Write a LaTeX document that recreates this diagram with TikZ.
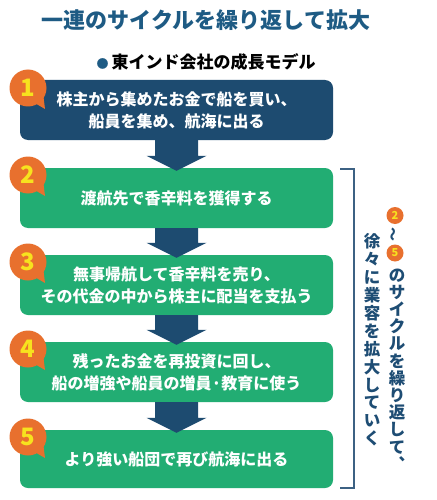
\documentclass[tikz,border=0pt]{standalone}
\usepackage{fontspec}
\setmainfont{Noto Sans CJK JP}
\usetikzlibrary{calc}
\definecolor{navy}{HTML}{1D4B70}
\definecolor{grn}{HTML}{22AD73}
\definecolor{orng}{HTML}{E8702E}
\definecolor{ylw}{HTML}{F7E21E}
\definecolor{ttl}{HTML}{1E5B84}
\definecolor{brk}{HTML}{3C6183}
\definecolor{vtxt}{HTML}{1E4D74}
\tikzset{
  stepbox/.style={rounded corners=8pt, minimum width=313pt, minimum height=60pt, inner sep=0pt,
    align=center, text=white, font=\fontsize{16}{22}\selectfont\bfseries},
  badgec/.style={circle, fill=orng, minimum size=37pt, inner sep=0pt, text=ylw,
    font=\fontsize{24}{24}\selectfont\bfseries},
  sbadge/.style={circle, fill=orng, minimum size=17pt, inner sep=0pt, text=ylw,
    font=\fontsize{11}{11}\selectfont\bfseries},
  vcolA/.style={align=center, inner sep=0pt, text=vtxt, font=\fontsize{16.5}{17.9}\selectfont\bfseries},
  vcolB/.style={align=center, inner sep=0pt, text=vtxt, font=\fontsize{16.5}{17.2}\selectfont\bfseries},
}
\newcommand\blockarr[2]{%
  \fill[navy] let \p1=(#1.south), \p2=(#2.north) in
    (\x1-21.5pt,\y1) -- (\x1+21.5pt,\y1) -- (\x1+21.5pt,\y2+12pt) -- (\x1+30pt,\y2+12pt)
    -- (\x1,\y2-3pt) -- (\x1-30pt,\y2+12pt) -- (\x1-21.5pt,\y2+12pt) -- cycle;}
\newcommand\badge[3]{%
  \fill[orng] ($(#2)+(5,14)$) -- ($(#2)+(17,21)$) -- ($(#2)+(15,5)$) -- cycle;
  \node[badgec] (#1) at (#2) {#3};}
\begin{document}
\begin{tikzpicture}[x=1pt,y=-1pt]
\useasboundingbox (0,0) rectangle (436,500);
\fill[white] (0,0) rectangle (436,500);
% title
\node[text=ttl, font=\fontsize{22}{22}\selectfont\bfseries] (title) at (206,20) {一連のサイクルを繰り返して拡大};
\node[font=\fontsize{17}{17}\selectfont\bfseries] (sub) at (206,62) {{\color{ttl}\fontsize{12}{12}\selectfont ●}\hspace{3pt}東インド会社の成長モデル};
% boxes
\node[stepbox, fill=navy] (b1) at (176.5,110) {株主から集めたお金で船を買い、\\船員を集め、航海に出る};
\node[stepbox, fill=grn] (b2) at (176.5,198) {渡航先で香辛料を獲得する};
\node[stepbox, fill=grn] (b3) at (176.5,285) {無事帰航して香辛料を売り、\\その代金の中から株主に配当を支払う};
\node[stepbox, fill=grn] (b4) at (176.5,372) {残ったお金を再投資に回し、\\船の増強や船員の増員·教育に使う};
\node[stepbox, fill=grn, minimum height=58pt] (b5) at (176.5,459) {より強い船団で再び航海に出る};
% arrows
\blockarr{b1}{b2}
\blockarr{b2}{b3}
\blockarr{b3}{b4}
\blockarr{b4}{b5}
% badges
\badge{n1}{28,88}{1}
\badge{n2}{28,175}{2}
\badge{n3}{28,262}{3}
\badge{n4}{28,349}{4}
\badge{n5}{28,437}{5}
% bracket
\coordinate (bt) at (340,169);
\coordinate (bb) at (340,488);
\draw[brk, line width=2pt] (bt) -- ++(14,0) |- (bb);
% vertical text
\node[sbadge] (s2) at (395,215.5) {2};
\node[text=vtxt, rotate=90, inner sep=0pt, font=\fontsize{14}{14}\selectfont\bfseries] (tl) at (395,234) {〜};
\node[sbadge] (s5) at (395,253) {5};
\node[vcolB] (v2) at (397,369.5) {の\\サ\\イ\\ク\\ル\\を\\繰\\り\\返\\し\\て\\︑};
\node[vcolA] (v1) at (372,340) {徐\\々\\に\\業\\容\\を\\拡\\大\\し\\て\\い\\く};
\end{tikzpicture}
\end{document}
